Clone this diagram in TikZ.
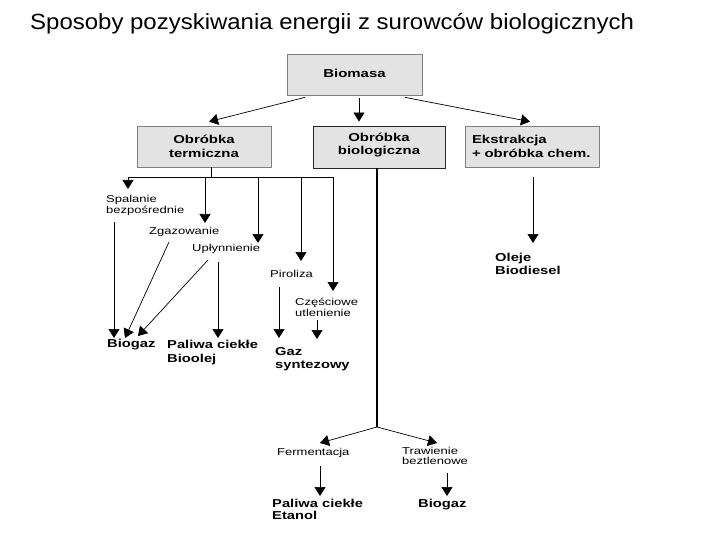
\documentclass[tikz,border=0pt]{standalone}
\usepackage{fontspec}
\setmainfont{Liberation Sans}
\newfontfamily\titlefont[FakeStretch=1.09]{Liberation Sans}
\newfontfamily\boxfont[FakeStretch=1.3]{Liberation Sans}
\newfontfamily\smallfont[FakeStretch=1.3]{Liberation Sans}
\newfontfamily\boldlblfont[FakeStretch=1.28]{Liberation Sans}
\usetikzlibrary{arrows.meta,calc}
\definecolor{boxfill}{HTML}{E3E3E3}
\definecolor{boxline}{HTML}{808080}
\tikzset{
  procbox/.style={draw=boxline, fill=boxfill, line width=0.7pt, inner sep=0pt,
    align=center, font=\boxfont\bfseries\fontsize{11.5}{14}\selectfont},
  lbl/.style={anchor=west, inner sep=0pt, align=left,
    font=\smallfont\fontsize{10}{10.5}\selectfont},
  blbl/.style={anchor=west, inner sep=0pt, align=left,
    font=\boldlblfont\bfseries\fontsize{11.5}{13}\selectfont},
  conn/.style={line width=0.7pt, draw=black},
  arr/.style={conn, -{Triangle[width=11pt,length=9pt]}},
}
\begin{document}
\begin{tikzpicture}[x=1pt,y=-1pt]
\useasboundingbox (0,0) rectangle (720,540);
% title
\node[anchor=base west, inner sep=0pt, font=\titlefont\fontsize{22}{26}\selectfont] (title) at (30,30)
  {Sposoby pozyskiwania energii z surowców biologicznych};
% boxes
\node[procbox, minimum width=135pt, minimum height=41pt] (bio) at (354.5,74.5) {\raisebox{2.5pt}{Biomasa}};
\node[procbox, minimum width=134pt, minimum height=41pt] (term) at (204,146.5) {Obróbka\\termiczna};
\node[procbox, draw=black!85, line width=0.9pt, minimum width=132pt, minimum height=42pt] (biol) at (379,147) {Obróbka\\[-1pt]biologiczna\\[-8pt]};
\node[procbox, align=left, text width=120pt, minimum width=134pt, minimum height=41pt] (ekst) at (532,146.5) {Ekstrakcja\\+ obróbka chem.};
% labels
\node[lbl] (sp) at (106,205.5) {Spalanie\\bezpośrednie};
\node[lbl] (zg) at (149,231.5) {Zgazowanie};
\node[lbl] (up) at (192,248.5) {Upłynnienie};
\node[lbl] (pi) at (270,274) {Piroliza};
\node[lbl] (cz) at (295,307.5) {Częściowe\\utlenienie};
\node[lbl] (fe) at (277,453) {Fermentacja};
\node[lbl] (tr) at (402,456) {Trawienie\\beztlenowe};
\node[blbl] (bg1) at (107,345) {Biogaz};
\node[blbl, font=\boldlblfont\bfseries\fontsize{11.5}{14.5}\selectfont] (pc1) at (167,352.5) {Paliwa ciekłe\\Bioolej};
\node[blbl] (gs) at (275,359.5) {Gaz\\syntezowy};
\node[blbl] (ol) at (495,263.5) {Oleje\\Biodiesel};
\node[blbl, font=\boldlblfont\bfseries\fontsize{11.5}{12}\selectfont] (pc2) at (272,509) {Paliwa ciekłe\\Etanol};
\node[blbl] (bg2) at (418,505) {Biogaz};
% first level arrows
\draw[arr] ([xshift=-49.5pt,yshift=-2pt]bio.south) -- ([xshift=5pt,yshift=4pt]term.north);
\draw[arr] ([xshift=4.5pt,yshift=-3pt]bio.south) -- ([xshift=-20pt,yshift=4pt]biol.north);
\draw[arr] ([xshift=50.5pt,yshift=-2pt]bio.south) -- ([xshift=-2pt,yshift=4pt]ekst.north);
% thermal bus
\coordinate (tj) at (211,177);
\coordinate (busL) at (128,177);
\coordinate (busR) at (333,177);
\draw[conn] ([xshift=7pt]term.south) -- (tj);
\draw[conn] (busL) -- (busR);
\coordinate (d2) at (205,177);
\coordinate (d3) at (258,177);
\coordinate (d4) at (301,177);
\draw[arr] (busL) -- (128,189);
\draw[arr] (d2) -- (205,223);
\draw[arr] (d3) -- (258,243);
\draw[arr] (d4) -- (301,261);
\draw[arr] (busR) -- (333,291);
% to products
\coordinate (spo) at (114,222);
\coordinate (zgo) at (169,242);
\coordinate (upo) at (208,260);
\coordinate (upv) at (218,262);
\coordinate (pio) at (279,287);
\coordinate (czo) at (317,320);
\draw[arr] (spo) -- (114,338);
\draw[arr] (zgo) -- (125,338);
\draw[arr] (upo) -- (138,336);
\draw[arr] (upv) -- (218,338);
\draw[arr] (pio) -- (279,338);
\draw[arr] (czo) -- (317,339);
% biological branch
\coordinate (bsplit) at (377,427);
\draw[line width=1.3pt] (biol.south -| bsplit) -- (bsplit);
\draw[arr] (bsplit) -- (320,443);
\draw[arr] (bsplit) -- (437,443);
\coordinate (feo) at (320,466);
\coordinate (tro) at (447,473);
\draw[arr] (feo) -- (320,496);
\draw[arr] (tro) -- (447,496);
% extraction branch
\coordinate (eko) at (533,177);
\draw[arr] (eko) -- (533,243);
\end{tikzpicture}
\end{document}
